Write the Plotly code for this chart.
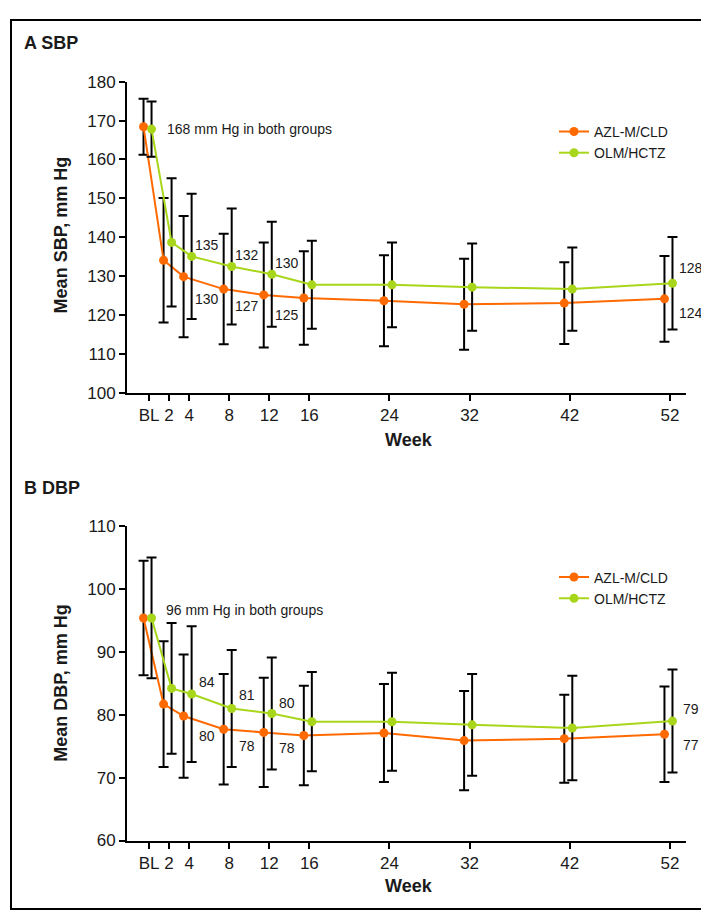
import plotly.graph_objects as go

# ---------------- data ----------------
weeks = [0, 2, 4, 8, 12, 16, 24, 32, 42, 52]
week_labels = ["BL", "2", "4", "8", "12", "16", "24", "32", "42", "52"]
series_names = ["AZL-M/CLD", "OLM/HCTZ"]

sbp_azl = [168.4, 134.1, 129.9, 126.7, 125.2, 124.4, 123.7, 122.8, 123.1, 124.2]
sbp_azl_sd = [7.2, 16.0, 15.6, 14.2, 13.5, 12.0, 11.7, 11.7, 10.5, 11.0]
sbp_olm = [167.8, 138.7, 135.1, 132.5, 130.5, 127.8, 127.8, 127.2, 126.7, 128.2]
sbp_olm_sd = [7.1, 16.5, 16.1, 14.9, 13.5, 11.3, 10.9, 11.2, 10.7, 11.9]

dbp_azl = [95.4, 81.7, 79.8, 77.7, 77.2, 76.7, 77.1, 75.9, 76.2, 76.9]
dbp_azl_sd = [9.1, 10.0, 9.8, 8.8, 8.7, 7.9, 7.8, 7.9, 7.0, 7.6]
dbp_olm = [95.4, 84.2, 83.3, 81.0, 80.2, 78.9, 78.9, 78.4, 77.9, 79.0]
dbp_olm_sd = [9.6, 10.4, 10.8, 9.3, 8.9, 7.9, 7.8, 8.1, 8.3, 8.2]

label_weeks = [4, 8, 12, 52]
sbp_azl_labels = ["130", "127", "125", "124"]
sbp_olm_labels = ["135", "132", "130", "128"]
dbp_azl_labels = ["80", "78", "78", "77"]
dbp_olm_labels = ["84", "81", "80", "79"]

sbp_baseline_text = "168 mm Hg in both groups"
dbp_baseline_text = "96 mm Hg in both groups"

sbp_yticks = [100, 110, 120, 130, 140, 150, 160, 170, 180]
dbp_yticks = [60, 70, 80, 90, 100, 110]

# ---------------- style ----------------
ORANGE = "#FF6A00"
GREEN = "#A8D61A"
TXT = "#1a1a1a"
FONT = "Liberation Sans, Arial, sans-serif"
W, H = 709, 914
OFF_AZL, OFF_OLM = -0.55, 0.25

def px_x(p):
    return p / W

def px_y(p):
    return 1 - p / H

fig = go.Figure()

panels = [
    dict(xa="x", ya="y", leg="legend",
         series=[(sbp_azl, sbp_azl_sd, ORANGE, series_names[0], OFF_AZL),
                 (sbp_olm, sbp_olm_sd, GREEN, series_names[1], OFF_OLM)]),
    dict(xa="x2", ya="y2", leg="legend2",
         series=[(dbp_azl, dbp_azl_sd, ORANGE, series_names[0], OFF_AZL),
                 (dbp_olm, dbp_olm_sd, GREEN, series_names[1], OFF_OLM)]),
]

for pn in panels:
    for vals, sd, col, name, off in pn["series"]:
        fig.add_trace(go.Scatter(
            x=[w + off for w in weeks], y=vals, name=name,
            mode="lines+markers", xaxis=pn["xa"], yaxis=pn["ya"],
            legend=pn["leg"],
            line=dict(color=col, width=2),
            marker=dict(color=col, size=9),
            error_y=dict(type="data", array=sd, visible=True,
                         color="black", thickness=2, width=5),
        ))

axis_common = dict(showline=True, linecolor="black", linewidth=2,
                   ticks="outside", ticklen=6, tickwidth=2, tickcolor="black",
                   showgrid=False, zeroline=False,
                   tickfont=dict(family=FONT, size=17, color=TXT))

xdom = [px_x(119), px_x(678)]
fig.update_layout(
    width=W, height=H, margin=dict(l=0, r=0, t=0, b=0),
    paper_bgcolor="white", plot_bgcolor="white",
    font=dict(family=FONT, color=TXT),
    xaxis=dict(domain=xdom, range=[-2.2, 53.6], anchor="y",
               tickvals=weeks, ticktext=week_labels, **axis_common),
    yaxis=dict(domain=[px_y(384), px_y(66)], range=[100, 180], anchor="x",
               tickvals=sbp_yticks, **axis_common),
    xaxis2=dict(domain=xdom, range=[-2.2, 53.6], anchor="y2",
                tickvals=weeks, ticktext=week_labels, **axis_common),
    yaxis2=dict(domain=[px_y(841), px_y(520)], range=[60, 110], anchor="x2",
                tickvals=dbp_yticks, **axis_common),
    legend=dict(x=px_x(546), y=px_y(101), xanchor="left", yanchor="top",
                font=dict(family=FONT, size=14, color=TXT),
                bgcolor="rgba(0,0,0,0)", itemwidth=30, tracegroupgap=0),
    legend2=dict(x=px_x(546), y=px_y(556), xanchor="left", yanchor="top",
                 font=dict(family=FONT, size=14, color=TXT),
                 bgcolor="rgba(0,0,0,0)", itemwidth=30, tracegroupgap=0),
    showlegend=True,
)

ann = []
# panel titles
ann.append(dict(text="<b>A SBP</b>", x=px_x(14), y=px_y(27), xref="paper", yref="paper",
                xanchor="left", yanchor="middle", showarrow=False,
                font=dict(size=18, family=FONT, color=TXT)))
ann.append(dict(text="<b>B DBP</b>", x=px_x(14), y=px_y(481), xref="paper", yref="paper",
                xanchor="left", yanchor="middle", showarrow=False,
                font=dict(size=18, family=FONT, color=TXT)))
# axis titles
for ytxt, yc in [("<b>Mean SBP, mm Hg</b>", 222), ("<b>Mean DBP, mm Hg</b>", 680)]:
    ann.append(dict(text=ytxt, x=px_x(53), y=px_y(yc), xref="paper", yref="paper",
                    textangle=-90, xanchor="center", yanchor="middle", showarrow=False,
                    font=dict(size=18, family=FONT, color=TXT)))
for yc in [432, 887]:
    ann.append(dict(text="<b>Week</b>", x=px_x(401), y=px_y(yc), xref="paper", yref="paper",
                    xanchor="center", yanchor="middle", showarrow=False,
                    font=dict(size=18, family=FONT, color=TXT)))

# baseline notes
ann.append(dict(text=sbp_baseline_text, x=weeks[0], y=sbp_olm[0], xref="x", yref="y",
                xanchor="left", yanchor="middle", xshift=16, yshift=0, showarrow=False,
                font=dict(size=14, family=FONT, color=TXT)))
ann.append(dict(text=dbp_baseline_text, x=weeks[0], y=dbp_olm[0], xref="x2", yref="y2",
                xanchor="left", yanchor="middle", xshift=15, yshift=8, showarrow=False,
                font=dict(size=14, family=FONT, color=TXT)))

# value labels: (labels, series values, xref, yref, yshift list)
label_sets = [
    (sbp_olm_labels, sbp_olm, "x", "y", [11, 11.4, 11, 15.3]),
    (sbp_azl_labels, sbp_azl, "x", "y", [-22.3, -17.3, -19.6, -14.6]),
    (dbp_olm_labels, dbp_olm, "x2", "y2", [12, 13.4, 11, 11.6]),
    (dbp_azl_labels, dbp_azl, "x2", "y2", [-20, -16.6, -16, -10.7]),
]
xshifts = [17.5, 17.5, 17.5, 21]
for labels, vals, xr, yr, ysh in label_sets:
    for i, wk in enumerate(label_weeks):
        idx = weeks.index(wk)
        ann.append(dict(text=labels[i], x=wk, y=vals[idx], xref=xr, yref=yr,
                        xanchor="center", yanchor="middle",
                        xshift=xshifts[i], yshift=ysh[i], showarrow=False,
                        font=dict(size=14, family=FONT, color=TXT)))

fig.update_layout(annotations=ann)

# outer frame
fig.add_shape(type="rect", xref="paper", yref="paper",
              x0=px_x(3), x1=px_x(705), y0=px_y(911), y1=px_y(3),
              line=dict(color="black", width=2), fillcolor="rgba(0,0,0,0)")

fig.write_html("out.html")
